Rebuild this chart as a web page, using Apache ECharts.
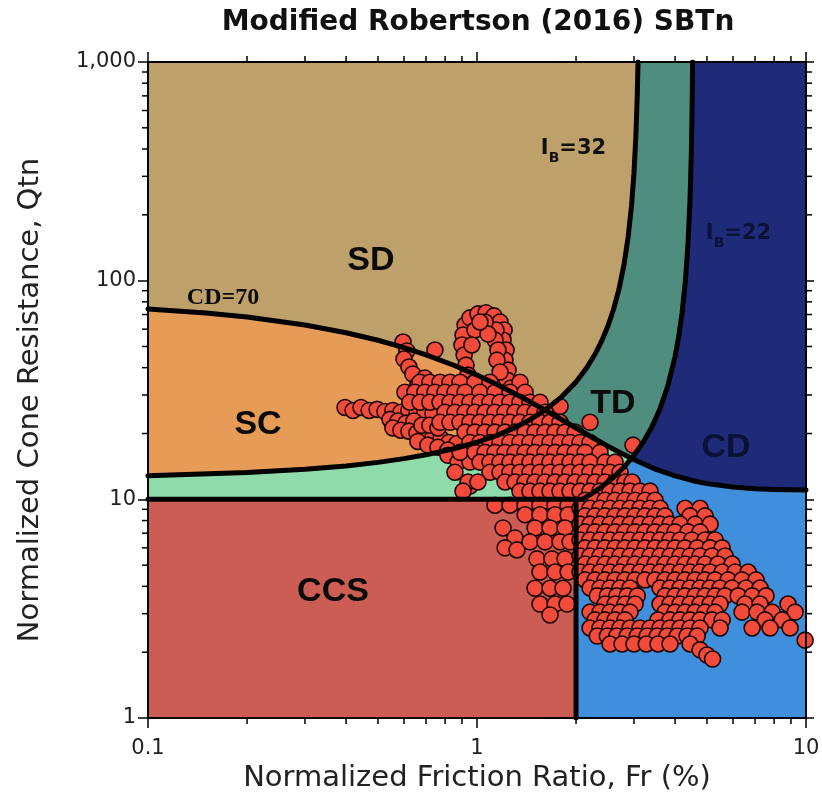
<!DOCTYPE html>
<html>
<head>
<meta charset="utf-8">
<script src="https://cdn.jsdelivr.net/npm/echarts@6/dist/echarts.min.js"></script>
<style>
  html, body { margin: 0; padding: 0; background: #ffffff; }
  #chart { width: 822px; height: 795px; }
</style>
</head>
<body>
<div id="chart"></div>
<script>
// ---- axis ticks ----
const xTickValues = [0.1, 1, 10];
const xTickLabels = ['0.1', '1', '10'];
const yTickValues = [1, 10, 100, 1000];
const yTickLabels = ['1', '10', '100', '1,000'];
const xMinorTicks = [0.2, 0.3, 0.4, 0.5, 0.6, 0.7, 0.8, 0.9, 2, 3, 4, 5, 6, 7, 8, 9];
const yMinorTicks = [2, 3, 4, 5, 6, 7, 8, 9, 20, 30, 40, 50, 60, 70, 80, 90,
                     200, 300, 400, 500, 600, 700, 800, 900];

// ---- SBTn zone boundaries, [Fr, Qtn] ----
const cd70Line = [
  [0.1, 74.2], [0.15, 71.1], [0.2, 68.2], [0.3, 62.7], [0.4, 57.8], [0.5, 53.4],
  [0.6, 49.4], [0.7, 45.8], [0.85, 41.05], [1.0, 37.0], [1.15, 33.5], [1.3, 30.5],
  [1.45, 27.95], [1.61, 25.6], [1.8, 23.24], [2.0, 21.2], [2.25, 19.13], [2.5, 17.5],
  [2.75, 16.22], [2.95, 15.38], [3.25, 14.39], [3.5, 13.7], [4.0, 12.8], [4.5, 12.2],
  [5.0, 11.8], [6.0, 11.38], [7.0, 11.18], [8.0, 11.09], [10, 11.02]
];
const ib32Line = [
  [0.1, 12.81], [0.2, 13.25], [0.3, 13.72], [0.4, 14.22], [0.5, 14.76], [0.6, 15.35],
  [0.7, 15.98], [0.85, 17.03], [1.0, 18.24], [1.15, 19.62], [1.3, 21.23], [1.45, 23.13],
  [1.61, 25.6], [1.8, 29.25], [2.0, 34.44], [2.15, 39.74], [2.3, 46.97], [2.4, 53.45],
  [2.5, 62.0], [2.6, 73.8], [2.7, 91.2], [2.8, 119.2], [2.88, 158.2], [2.95, 221.4],
  [3.0, 310], [3.04, 455.9], [3.07, 704.5], [3.0863, 1000]
];
const ib22Line = [
  [2.091, 10], [2.2, 10.47], [2.4, 11.44], [2.6, 12.62], [2.8, 14.06], [2.95, 15.38],
  [3.2, 18.24], [3.4, 21.43], [3.6, 25.96], [3.8, 32.93], [4.0, 45.0], [4.1, 55.1],
  [4.2, 71.05], [4.3, 100], [4.38, 148.4], [4.44, 232.8], [4.48, 375], [4.5, 540],
  [4.51, 692], [4.5209, 1000]
];
const q10Line = [[0.1, 10], [2.091, 10]];
const fr2Line = [[2, 1], [2, 10]];

// ---- CPT soundings, [Fr, Qtn] ----
const loopPts = [
  [0.920, 62.7], [0.907, 56.4], [0.900, 50.8], [0.914, 45.7], [0.926, 41.1], [0.939, 37.0],
  [0.952, 33.3], [0.952, 67.6], [1.007, 70.5], [1.065, 71.3], [1.126, 69.0], [1.175, 64.7],
  [1.209, 59.5], [1.200, 53.5], [1.226, 48.2], [1.217, 43.3], [1.243, 39.0], [1.234, 35.1],
  [1.269, 32.3], [1.142, 59.5], [1.134, 53.5], [1.158, 48.2], [1.150, 43.3], [1.175, 38.2],
  [0.986, 59.5], [1.058, 64.7], [0.965, 50.8], [1.080, 57.0], [1.021, 64.7], [1.305, 29.9]
];
const upperPts = [
  [0.596, 52.4], [0.612, 47.7], [0.600, 43.8], [0.621, 40.3], [0.638, 37.4], [0.745, 48.2],
  [0.661, 33.3], [0.694, 35.9]
];
const tailPts = [
  [0.397, 26.3], [0.420, 25.5], [0.444, 26.3], [0.470, 25.5], [0.497, 25.8], [0.525, 25.2],
  [0.555, 25.5], [0.587, 25.0], [0.621, 25.5], [0.657, 24.7], [0.694, 25.2], [0.735, 24.7]
];
const bandPts = [
  [0.544, 23.2], [0.575, 22.8], [0.608, 22.3], [0.643, 22.8], [0.555, 21.2], [0.587, 20.7],
  [0.621, 20.5], [0.657, 20.1], [0.694, 19.6], [0.735, 19.2], [0.777, 19.0], [0.822, 18.2],
  [0.869, 18.0], [0.680, 21.8], [0.719, 21.8], [0.761, 21.2], [0.661, 18.4], [0.709, 17.7],
  [0.761, 17.3], [0.816, 16.8], [0.816, 15.9], [0.876, 14.8], [0.952, 14.8]
];
const strayPts = [[1.788, 26.6], [2.206, 22.5], [2.98, 17.7], [0.952, 11.5]];

// main cluster, listed row by row (one Qtn per row)
const clusterRowQ = [34.3, 30.9, 27.8, 25.0, 22.5, 20.3, 18.2, 16.4, 14.8, 13.3, 12.0, 10.9];
const clusterRowFr = [
  [0.671, 0.719, 0.772, 0.828, 0.888, 0.986, 1.095, 1.351],
  [0.604, 0.647, 0.694, 0.745, 0.799, 0.857, 0.920, 1.021, 1.134, 1.260, 1.400],
  [0.625, 0.671, 0.719, 0.772, 0.828, 0.888, 0.952, 1.021, 1.095, 1.175, 1.260, 1.351, 1.449, 1.554],
  [0.799, 0.857, 0.920, 0.986, 1.058, 1.134, 1.217, 1.305, 1.400, 1.501, 1.610],
  [0.772, 0.828, 0.888, 0.952, 1.021, 1.095, 1.175, 1.260, 1.351, 1.449, 1.554, 1.667, 1.788],
  [0.920, 0.986, 1.058, 1.134, 1.217, 1.305, 1.400, 1.501, 1.610, 1.727, 1.852, 1.987],
  [0.952, 1.021, 1.095, 1.175, 1.260, 1.351, 1.449, 1.554, 1.667, 1.788, 1.918, 2.057, 2.206],
  [0.888, 0.986, 1.058, 1.134, 1.217, 1.305, 1.400, 1.501, 1.610, 1.727, 1.852, 1.987, 2.131, 2.366],
  [1.021, 1.095, 1.175, 1.260, 1.351, 1.449, 1.554, 1.667, 1.788, 1.918, 2.057, 2.206, 2.451, 2.628],
  [0.857, 1.095, 1.175, 1.260, 1.351, 1.449, 1.554, 1.667, 1.788, 1.918, 2.057, 2.206, 2.366, 2.537, 2.721],
  [0.939, 1.007, 1.217, 1.305, 1.400, 1.501, 1.610, 1.727, 1.852, 1.987, 2.131, 2.285, 2.451, 2.628, 2.818, 2.96],
  [0.907, 1.351, 1.449, 1.554, 1.667, 1.788, 1.918, 2.057, 2.206, 2.366, 2.537, 2.721, 2.919, 3.130, 3.357]
];

const ccsPts = [
  [1.134, 9.4], [1.260, 9.4], [1.400, 9.4], [1.554, 9.4], [1.727, 9.4], [1.892, 9.4],
  [1.400, 8.5], [1.554, 8.5], [1.727, 8.5], [1.892, 8.5],
  [1.200, 7.4], [1.305, 6.66], [1.217, 6.0], [1.323, 5.87],
  [1.501, 7.4], [1.667, 7.4], [1.852, 7.4],
  [1.449, 6.39], [1.610, 6.39], [1.788, 6.39], [1.918, 6.39],
  [1.522, 5.34], [1.690, 5.34], [1.852, 5.34],
  [1.554, 4.65], [1.727, 4.65], [1.892, 4.65],
  [1.501, 3.92], [1.667, 3.92], [1.826, 3.92],
  [1.554, 3.32], [1.727, 3.32], [1.878, 3.32], [1.667, 2.96]
];

// clay-like points right of Fr = 2, row by row
const ccRowQ = [9.9, 9.1, 8.4, 7.7, 7.1, 6.52, 6.0, 5.51, 5.06, 4.65, 4.28, 3.93, 3.62, 3.32,
                3.05, 2.81, 2.58, 2.37, 2.18];
const ccRowFr = [
  [2.131, 2.285, 2.451, 2.628, 2.818, 3.023, 3.242, 3.477],
  [2.057, 2.206, 2.366, 2.537, 2.721, 2.919, 3.130, 3.357, 3.601, 4.290, 4.764],
  [2.131, 2.285, 2.451, 2.628, 2.818, 3.023, 3.242, 3.477, 3.729, 4.442, 4.934],
  [2.057, 2.206, 2.366, 2.537, 2.721, 2.919, 3.130, 3.357, 3.601, 3.862, 4.142, 4.601, 5.110],
  [2.131, 2.285, 2.451, 2.628, 2.818, 3.023, 3.242, 3.477, 3.729, 4.000, 4.38, 4.764],
  [2.057, 2.206, 2.366, 2.537, 2.721, 2.919, 3.130, 3.357, 3.601, 3.862, 4.142, 4.50, 4.934, 5.292],
  [2.131, 2.285, 2.451, 2.628, 2.818, 3.023, 3.242, 3.477, 3.729, 4.000, 4.290, 4.67, 5.110, 5.56],
  [2.057, 2.206, 2.366, 2.537, 2.721, 2.919, 3.130, 3.357, 3.601, 3.862, 4.142, 4.442, 4.764, 5.18, 5.676],
  [2.131, 2.285, 2.451, 2.628, 2.818, 3.023, 3.242, 3.477, 3.729, 4.000, 4.290, 4.601, 4.934, 5.40, 5.96],
  [2.057, 2.206, 2.366, 2.537, 2.721, 2.919, 3.130, 3.357, 3.601, 3.862, 4.142, 4.442, 4.764, 5.110, 5.56, 6.088, 6.67],
  [2.131, 2.285, 2.451, 2.628, 2.818, 3.023, 3.242, 3.477, 3.729, 4.000, 4.290, 4.601, 4.934, 5.292, 5.80, 6.39, 7.05],
  [2.206, 2.366, 2.537, 2.721, 2.919, 3.601, 3.862, 4.142, 4.442, 4.764, 5.110, 5.480, 5.96, 6.57, 7.251],
  [2.32, 2.49, 2.66, 2.86, 3.07, 3.729, 4.000, 4.290, 4.601, 4.934, 5.292, 5.676, 6.22, 6.86, 7.56],
  [2.451, 2.628, 2.818, 3.023, 3.601, 3.862, 4.142, 4.442, 4.764, 5.110, 5.480, 6.529, 7.251, 8.82],
  [2.206, 2.366, 2.537, 2.721, 2.919, 3.729, 4.000, 4.290, 4.601, 4.934, 5.292, 6.39, 7.10, 7.89, 9.266],
  [2.285, 2.451, 2.628, 2.818, 3.55, 3.862, 4.142, 4.442, 4.764, 5.18, 5.56, 7.510, 8.46],
  [2.206, 2.366, 2.537, 2.721, 2.919, 3.130, 3.357, 3.601, 3.862, 4.142, 4.442, 4.764, 5.480, 6.86, 7.777, 8.946],
  [2.32, 2.49, 2.66, 2.86, 3.07, 3.29, 3.53, 3.78, 4.06, 4.35, 4.67],
  [2.537, 2.76, 3.00, 3.27, 3.55, 3.862, 4.442]
];
const ccExtraPts = [[4.764, 2.05], [5.0, 1.94], [5.2, 1.86], [9.938, 2.27]];

// ---- zone names and boundary captions ----
const zoneNames = ['SD', 'SC', 'TD', 'CD', 'CCS'];
const cdCaption = 'CD=70';
const ibCaptions = [['I', 'B', '=32'], ['I', 'B', '=22']];

// ---- build zone polygons from the boundary lines ----
const FR_A = 1.61;  // CD=70 meets IB=32
const FR_B = 2.95;  // CD=70 meets IB=22
const between = (line, a, b) => line.filter(p => p[0] >= a - 1e-9 && p[0] <= b + 1e-9);
const rev = arr => arr.slice().reverse();

const zones = [
  { color: '#BEA06B', pts: [[0.1, 1000]].concat(rev(between(ib32Line, FR_A, 99)), rev(between(cd70Line, 0, FR_A))) },
  { color: '#4F8E7F', pts: between(ib32Line, FR_A, 99).concat(rev(between(ib22Line, FR_B, 99)), rev(between(cd70Line, FR_A, FR_B))) },
  { color: '#1F2A79', pts: [[10, 1000], [10, 11.02]].concat(rev(between(cd70Line, FR_B, 99)), between(ib22Line, FR_B, 99)) },
  { color: '#E69B56', pts: between(cd70Line, 0, FR_A).concat(rev(between(ib32Line, 0, FR_A))) },
  { color: '#90DBAA', pts: between(ib32Line, 0, FR_A).concat(between(cd70Line, FR_A, FR_B), rev(between(ib22Line, 0, FR_B)), [[0.1, 10]]) },
  { color: '#3F8FDD', pts: [[2, 1], [10, 1], [10, 11.02]].concat(rev(between(cd70Line, FR_B, 99)), rev(between(ib22Line, 0, FR_B)), [[2, 10]]) },
  { color: '#CC5D55', pts: [[0.1, 1], [2, 1], [2, 10], [0.1, 10]] }
];

const rowsToPts = (qs, frs) => qs.flatMap((q, i) => frs[i].map(f => [f, q]));
const cptPts = [].concat(
  loopPts, upperPts, tailPts, bandPts, strayPts,
  rowsToPts(clusterRowQ, clusterRowFr), ccsPts,
  rowsToPts(ccRowQ, ccRowFr), ccExtraPts
);

const tickLabel = (values, labels) => v => {
  const i = values.findIndex(t => Math.abs(Math.log10(t) - Math.log10(v)) < 1e-6);
  return i >= 0 ? labels[i] : '';
};

const FONT = 'DejaVu Sans';
const axisLineStyle = { color: '#000', width: 2 };
const tickStyle = { color: '#000', width: 1.5 };

const boundary = data => ({
  type: 'line', data, showSymbol: false, symbol: 'none', silent: true, z: 5,
  lineStyle: { color: '#000', width: 5, join: 'round', cap: 'round' }
});

// text anchors (Fr, Qtn) and looks for the zone names
const captionLayout = [
  { at: [0.476, 123], font: 'bold 34px "Liberation Sans"', fill: '#0a0a0a' },
  { at: [0.216, 21.9], font: 'bold 34px "Liberation Sans"', fill: '#0a0a0a' },
  { at: [2.59, 27.3], font: 'bold 34px "Liberation Sans"', fill: '#0a0a0a' },
  { at: [5.71, 17.2], font: 'bold 34px "Liberation Sans"', fill: '#0b1238' },
  { at: [0.365, 3.77], font: 'bold 34px "Liberation Sans"', fill: '#0a0a0a' }
];

const chart = echarts.init(document.getElementById('chart'), null, { renderer: 'canvas' });
chart.setOption({
  animation: false,
  backgroundColor: '#ffffff',
  grid: { left: 148, top: 62, right: 16, bottom: 77, containLabel: false, outerBoundsMode: 'none' },
  graphic: [{
    type: 'text', x: 478, y: 23, z: 20,
    style: {
      text: 'Modified Robertson (2016) SBTn',
      font: 'bold 28px "DejaVu Sans"', fill: '#111',
      textAlign: 'center', textVerticalAlign: 'middle', align: 'center', verticalAlign: 'middle'
    }
  }],
  xAxis: [{
    type: 'log', logBase: 10, min: 0.1, max: 10, position: 'bottom', z: 10,
    name: 'Normalized Friction Ratio, Fr (%)', nameLocation: 'middle', nameGap: 40,
    nameTextStyle: { fontSize: 29, color: '#222', fontFamily: FONT },
    axisLine: { show: true, onZero: false, lineStyle: axisLineStyle },
    axisTick: { show: true, inside: false, length: 10, lineStyle: tickStyle },
    axisLabel: { margin: 20, fontSize: 21, color: '#222', fontFamily: FONT, formatter: tickLabel(xTickValues, xTickLabels) },
    splitLine: { show: false }
  }, {
    type: 'log', logBase: 10, min: 0.1, max: 10, position: 'top', z: 10,
    axisLine: { show: true, onZero: false, lineStyle: axisLineStyle },
    axisTick: { show: true, inside: false, length: 10, lineStyle: tickStyle },
    axisLabel: { show: false },
    splitLine: { show: false }
  }],
  yAxis: [{
    type: 'log', logBase: 10, min: 1, max: 1000, position: 'left', z: 10,
    name: 'Normalized Cone Resistance, Qtn', nameLocation: 'middle', nameGap: 103,
    nameTextStyle: { fontSize: 29, color: '#222', fontFamily: FONT, padding: [0, 20, 0, 0] },
    axisLine: { show: true, onZero: false, lineStyle: axisLineStyle },
    axisTick: { show: true, inside: false, length: 10, lineStyle: tickStyle },
    axisLabel: { margin: 12, fontSize: 21, color: '#222', fontFamily: FONT, formatter: tickLabel(yTickValues, yTickLabels) },
    splitLine: { show: false }
  }, {
    type: 'log', logBase: 10, min: 1, max: 1000, position: 'right', z: 10,
    axisLine: { show: true, onZero: false, lineStyle: axisLineStyle },
    axisTick: { show: true, inside: false, length: 8, lineStyle: tickStyle },
    axisLabel: { show: false },
    splitLine: { show: false }
  }],
  series: [
    {
      // coloured SBTn zones
      type: 'custom', silent: true, z: 1, clip: true,
      data: zones.map((zn, i) => [1, 1, i]),
      encode: { x: 0, y: 1 },
      renderItem: (params, api) => {
        const zn = zones[api.value(2)];
        return {
          type: 'polygon',
          shape: { points: zn.pts.map(p => api.coord(p)) },
          style: { fill: zn.color, stroke: zn.color, lineWidth: 1 }
        };
      }
    },
    {
      type: 'scatter', name: 'CPT', data: cptPts, silent: true, z: 3,
      symbol: 'circle', symbolSize: 16,
      itemStyle: { color: '#F34B3B', borderColor: '#1c0503', borderWidth: 1.6, opacity: 1 }
    },
    boundary(cd70Line),
    boundary(ib32Line),
    boundary(ib22Line),
    boundary(q10Line),
    boundary(fr2Line),
    {
      // zone names
      type: 'custom', silent: true, z: 8, clip: false,
      data: zoneNames.map((n, i) => [1, 1, i]),
      encode: { x: 0, y: 1 },
      renderItem: (params, api) => {
        const i = api.value(2);
        const lay = captionLayout[i];
        const p = api.coord(lay.at);
        return {
          type: 'text', x: p[0], y: p[1],
          style: { text: zoneNames[i], font: lay.font, fill: lay.fill, align: 'center', verticalAlign: 'middle' }
        };
      }
    },
    {
      // boundary captions: CD=70, IB=32, IB=22
      type: 'custom', silent: true, z: 8, clip: false,
      data: [[1, 1, 0], [1, 1, 1], [1, 1, 2]],
      encode: { x: 0, y: 1 },
      renderItem: (params, api) => {
        const k = api.value(2);
        if (k === 0) {
          const p = api.coord([0.169, 83.3]);
          return {
            type: 'text', x: p[0], y: p[1],
            style: { text: cdCaption, font: 'bold 24px "Liberation Serif"', fill: '#0a0a0a', align: 'center', verticalAlign: 'middle' }
          };
        }
        const cap = ibCaptions[k - 1];
        const col = k === 1 ? '#111111' : '#0b1238';
        const p = api.coord(k === 1 ? [1.965, 404] : [6.235, 165]);
        return {
          type: 'text', x: p[0], y: p[1],
          style: {
            text: '{i|' + cap[0] + '}{s|' + cap[1] + '}{i|' + cap[2] + '}',
            align: 'center', verticalAlign: 'middle',
            rich: {
              i: { fontSize: 21, fontWeight: 'bold', fontFamily: FONT, fill: col, lineHeight: 26 },
              s: { fontSize: 14, fontWeight: 'bold', fontFamily: FONT, fill: col, padding: [20, 0, 0, 0] }
            }
          }
        };
      }
    },
    {
      // minor ticks on the bottom and top edges
      type: 'custom', silent: true, z: 10, clip: false,
      data: xMinorTicks.map(v => [v, 1]),
      renderItem: (params, api) => {
        const v = api.value(0);
        const b = api.coord([v, 1]);
        const t = api.coord([v, 1000]);
        return {
          type: 'group', children: [
            { type: 'line', shape: { x1: b[0], y1: b[1], x2: b[0], y2: b[1] + 6 }, style: { stroke: '#000', lineWidth: 1.5 } },
            { type: 'line', shape: { x1: t[0], y1: t[1], x2: t[0], y2: t[1] - 6 }, style: { stroke: '#000', lineWidth: 1.5 } }
          ]
        };
      }
    },
    {
      // minor ticks on the left and right edges
      type: 'custom', silent: true, z: 10, clip: false,
      data: yMinorTicks.map(v => [0.1, v]),
      renderItem: (params, api) => {
        const v = api.value(1);
        const l = api.coord([0.1, v]);
        const r = api.coord([10, v]);
        return {
          type: 'group', children: [
            { type: 'line', shape: { x1: l[0], y1: l[1], x2: l[0] - 6, y2: l[1] }, style: { stroke: '#000', lineWidth: 1.5 } },
            { type: 'line', shape: { x1: r[0], y1: r[1], x2: r[0] + 6, y2: r[1] }, style: { stroke: '#000', lineWidth: 1.5 } }
          ]
        };
      }
    }
  ]
});
</script>
</body>
</html>
